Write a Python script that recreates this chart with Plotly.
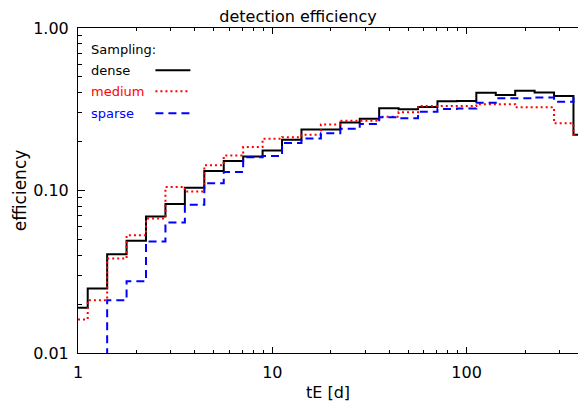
import plotly.graph_objects as go

# Bin centres of tE [d] (0.1 dex bins)
tE_centers = [1.0, 1.259, 1.585, 1.995, 2.512, 3.162, 3.981, 5.012, 6.310, 7.943,
              10.0, 12.59, 15.85, 19.95, 25.12, 31.62, 39.81, 50.12, 63.10, 79.43,
              100.0, 125.9, 158.5, 199.5, 251.2, 316.2, 398.1]

eff_dense = [0.0190, 0.0249, 0.0405, 0.0491, 0.0693, 0.0825, 0.104, 0.132, 0.152, 0.162,
             0.176, 0.205, 0.237, 0.237, 0.262, 0.276, 0.321, 0.316, 0.326, 0.354,
             0.355, 0.399, 0.387, 0.411, 0.401, 0.381, 0.220]
eff_medium = [0.0161, 0.0211, 0.0381, 0.0530, 0.0673, 0.105, 0.0986, 0.143, 0.164, 0.185,
              0.208, 0.213, 0.220, 0.255, 0.269, 0.269, 0.284, 0.303, 0.331, 0.331,
              0.331, 0.340, 0.340, 0.325, 0.325, 0.259, 0.220]
eff_sparse = [0.0, 0.0, 0.0211, 0.0276, 0.0485, 0.0636, 0.0817, 0.111, 0.130, 0.160,
              0.163, 0.196, 0.209, 0.225, 0.240, 0.257, 0.282, 0.278, 0.305, 0.317,
              0.320, 0.347, 0.369, 0.369, 0.374, 0.352, 0.374]

series_names = ["dense", "medium", "sparse"]
series_colors = ["#000000", "#ff0000", "#0000ff"]
series_dash = ["solid", "2px,3px", "8px,5px"]

x_tickvals = [1, 10, 100]
x_ticktext = ["1", "10", "100"]
y_tickvals = [0.01, 0.1, 1.0]
y_ticktext = ["0.01", "0.10", "1.00"]

FLOOR = 1e-4  # zero efficiency falls below the log axis

fig = go.Figure()
for name, vals, col, dash in zip(series_names, [eff_dense, eff_medium, eff_sparse],
                                 series_colors, series_dash):
    yv = [v if v > 0 else FLOOR for v in vals]
    fig.add_trace(go.Scatter(x=tE_centers, y=yv, mode="lines", name=name,
                             line=dict(color=col, width=2, dash=dash, shape="hvh"),
                             showlegend=False, hoverinfo="skip"))

FONT = "DejaVu Sans"
L, R, T, B = 77.5, 0, 27.5, 48.5
W, H = 578, 402
pw, ph = W - L - R, H - T - B

def px2paper(px, py):
    return (px - L) / pw, (H - B - py) / ph

xminor = [m * 10 ** e for e in (0, 1, 2) for m in range(2, 10) if m * 10 ** e < 400]
yminor = [m * 10 ** e for e in (-2, -1) for m in range(2, 10)]

fig.update_xaxes(type="log", range=[0, pw / 194.5], showgrid=False, zeroline=False,
                 automargin=False,
                 showline=True, linecolor="black", linewidth=1, mirror="allticks",
                 ticks="inside", ticklen=6, tickwidth=1, tickcolor="black",
                 tickmode="array", tickvals=x_tickvals, ticktext=x_ticktext,
                 minor=dict(tickmode="array", tickvals=xminor, ticks="inside",
                            ticklen=3, tickwidth=1, tickcolor="black", showgrid=False),
                 tickfont=dict(family=FONT, size=16, color="black"),
                 ticklabelstandoff=5,
                 title=dict(text="tE [d]", font=dict(family=FONT, size=16, color="black"),
                            standoff=6))
fig.update_yaxes(type="log", range=[-2, 0], showgrid=False, zeroline=False,
                 automargin=False,
                 showline=True, linecolor="black", linewidth=1, mirror=False,
                 ticks="inside", ticklen=7, tickwidth=1, tickcolor="black",
                 tickmode="array", tickvals=y_tickvals, ticktext=y_ticktext,
                 minor=dict(tickmode="array", tickvals=yminor, ticks="inside",
                            ticklen=4, tickwidth=1, tickcolor="black", showgrid=False),
                 tickfont=dict(family=FONT, size=16, color="black"),
                 ticklabelstandoff=5,
                 title=dict(text="efficiency", font=dict(family=FONT, size=17, color="black"),
                            standoff=2))

# Legend drawn as in the reference (text, then line sample)
annotations = []
shapes = []
lx, ly = px2paper(89, 49)
annotations.append(dict(text="Sampling:", x=lx, y=ly, xref="paper", yref="paper",
                        xanchor="left", yanchor="middle", showarrow=False,
                        font=dict(family=FONT, size=13, color="black")))
legend_rows_py = [70, 91, 113]
for name, col, dash, py in zip(series_names, series_colors, series_dash, legend_rows_py):
    tx, ty = px2paper(89, py)
    annotations.append(dict(text=name, x=tx, y=ty, xref="paper", yref="paper",
                            xanchor="left", yanchor="middle", showarrow=False,
                            font=dict(family=FONT, size=13, color=col)))
    x0, y0 = px2paper(155, py)
    x1, _ = px2paper(190, py)
    shapes.append(dict(type="line", xref="paper", yref="paper", x0=x0, x1=x1, y0=y0, y1=y0,
                       line=dict(color=col, width=2, dash=dash)))

fig.update_layout(width=W, height=H, margin=dict(l=L, r=R, t=T, b=B, pad=0, autoexpand=False),
                  plot_bgcolor="white", paper_bgcolor="white",
                  title=dict(text="detection efficiency", x=298 / W, xanchor="center",
                             y=1 - 16 / H, yanchor="middle",
                             font=dict(family=FONT, size=16, color="black")),
                  annotations=annotations, shapes=shapes, showlegend=False,
                  hovermode=False)

fig.write_html("out.html", config={"displayModeBar": False},
               post_script="document.body.style.margin='0';document.body.style.overflow='hidden';")
